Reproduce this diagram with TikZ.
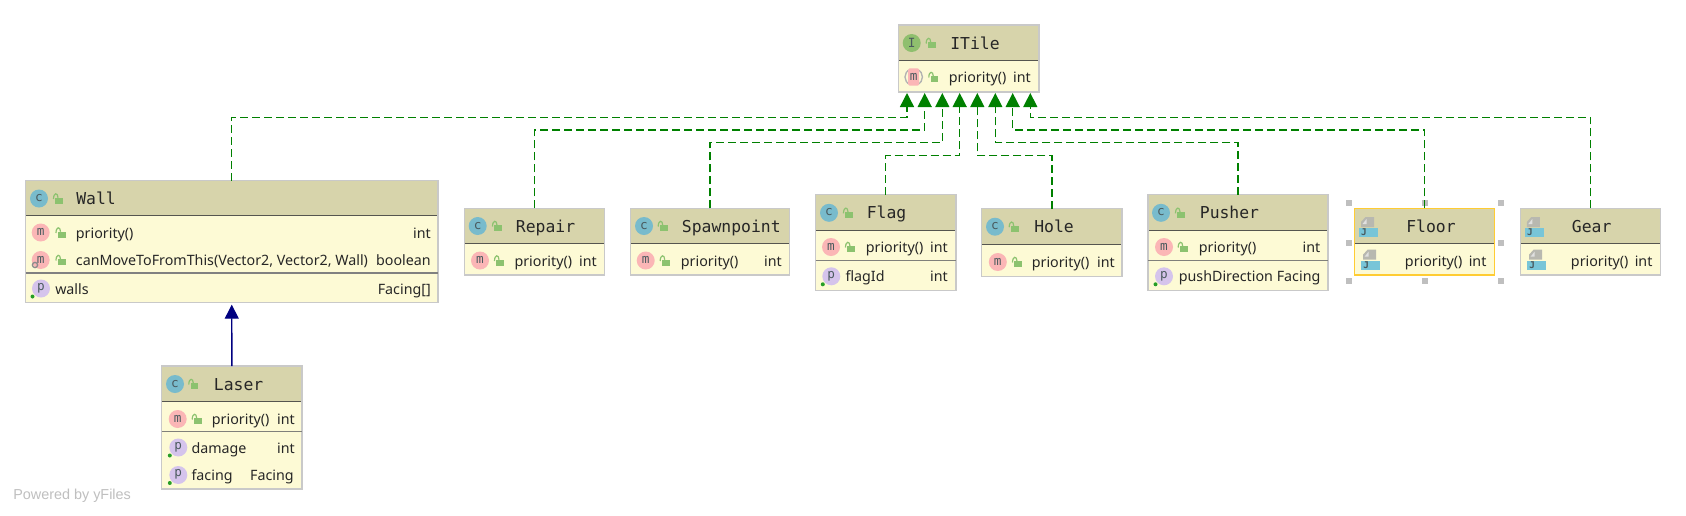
\documentclass[tikz,border=0pt]{standalone}
\usepackage{fontspec}
\setmainfont{Noto Sans}
\newfontfamily\titlefont{DejaVu Sans Mono}
\newfontfamily\yfont{Liberation Sans}
\usetikzlibrary{arrows.meta}
\definecolor{headfill}{HTML}{D7D4AB}
\definecolor{bodyfill}{HTML}{FDFAD5}
\definecolor{boxline}{HTML}{C9C9C9}
\definecolor{divline}{HTML}{55554F}
\definecolor{selline}{HTML}{FFCC33}
\definecolor{lockgreen}{HTML}{8CC26F}
\definecolor{cteal}{HTML}{78BBCC}
\definecolor{mpink}{HTML}{FBB6B6}
\definecolor{ppurple}{HTML}{D5C4EC}
\definecolor{igreen}{HTML}{8FBF6E}
\definecolor{letter}{HTML}{4A5A5E}
\definecolor{depgreen}{HTML}{008000}
\definecolor{extnavy}{HTML}{000080}
\definecolor{jteal}{HTML}{78C5D8}
\definecolor{jgray}{HTML}{B8B8B0}
\tikzset{
  x=0.75pt,y=-0.75pt,
  classbody/.style={fill=bodyfill,inner sep=0pt,outer sep=0pt},
  border/.style={draw=boxline,line width=1.1pt},
  selborder/.style={draw=selline,line width=1.1pt},
  divider/.style={draw=divline,line width=0.65pt},
  divlight/.style={draw=divline!75,line width=0.6pt},
  divgray/.style={draw=black!50,line width=1pt},
  titletext/.style={inner sep=0pt,anchor=base west,font=\titlefont\fontsize{12.3pt}{14pt}\selectfont,text=black!85},
  rowtext/.style={inner sep=0pt,anchor=base west,font=\fontsize{10.7pt}{13pt}\selectfont,text=black!85},
  typetext/.style={inner sep=0pt,anchor=base east,font=\fontsize{10.7pt}{13pt}\selectfont,text=black!85},
  dep/.style={draw=depgreen,line width=1.05pt,dash pattern=on 6pt off 3pt,-{Triangle[width=10.5pt,length=10.5pt]}},
  ext/.style={draw=extnavy,line width=1.05pt,-{Triangle[width=10.5pt,length=10.5pt]},shorten >=1.5pt},
  handle/.style={fill=black!25,inner sep=0pt,minimum size=4.5pt},
  pics/badge/.style 2 args={code={
    \fill[#2] (0,0) circle [radius=9];
    \node[inner sep=0pt,text=letter,font=\titlefont\fontsize{9.5pt}{10pt}\selectfont] at (0,-0.3) {#1};
  }},
  pics/lock/.style={code={
    \fill[lockgreen] (-2.7,-0.8) rectangle (5,5.2);
    \draw[lockgreen,line width=0.9pt] (-4.5,0.5) .. controls (-4.5,-6.2) and (0,-6.2) .. (0,-0.8);
  }},
  pics/jicon/.style={code={
    \fill[jgray] (-3,-10) -- (5.5,-10) -- (5.5,0) -- (-7.5,0) -- (-7.5,-5) -- cycle;
    \fill[black!12] (-2,-8) -- (-2,-3) -- (-6,-3) -- cycle;
    \fill[jteal] (-9.5,1) rectangle (9.5,10);
    \node[inner sep=0pt,text=letter,font=\titlefont\bfseries\fontsize{7pt}{8pt}\selectfont] at (-4.5,5.5) {J};
  }},
  pics/absm/.style={code={
    \draw[black!30,line width=1pt] (-3.5,-7.5) .. controls (-10.5,-5) and (-10.5,5) .. (-3.5,7.5);
    \draw[black!30,line width=1pt] (3.5,-7.5) .. controls (10.5,-5) and (10.5,5) .. (3.5,7.5);
    \fill[mpink,rounded corners=1.5pt] (-5.5,-8.7) rectangle (5.5,8.7);
    \node[inner sep=0pt,text=letter,font=\titlefont\fontsize{9.5pt}{10pt}\selectfont] at (0,-0.3) {m};
  }},
  pics/dot/.style={code={\fill[green!55!black!85] (0,0) circle [radius=2];}},
  pics/gearmark/.style={code={\draw[black!45,line width=1pt] (0,0) circle [radius=2.6];}},
}
% #1 id, #2-#5 box x0 y0 x1 y1, #6 divider y, #7 border style
\newcommand{\classbox}[7]{%
  \node[classbody,minimum width={(#4-#2)*0.75pt},minimum height={(#5-#3)*0.75pt}] (#1) at ({(#2+#4)/2},{(#3+#5)/2}) {};
  \fill[headfill] (#1.north west) rectangle (#1.east |- 0,#6);
  \draw[divider] (#1.west |- 0,#6) -- (#1.east |- 0,#6);
  \draw[#7] (#1.north west) rectangle (#1.south east);
}
% #1 id, #2 badge x, #3 lock x, #4 title x, #5 y, #6 letter, #7 colour, #8 title
\newcommand{\headline}[8]{%
  \pic at (#2,#5) {badge={#6}{#7}};
  \pic at (#3,#5) {lock};
  \node[titletext] (#1-title) at (#4,#5+6) {#8};
}
% #1 id, #2 m x, #3 lock x, #4 text x, #5 right x, #6 y, #7 text, #8 type
\newcommand{\mrow}[8]{%
  \pic at (#2,#6) {badge={m}{mpink}};
  \pic at (#3,#6) {lock};
  \node[rowtext] (#1-n) at (#4,#6+5.5) {#7};
  \node[typetext] (#1-t) at (#5,#6+5.5) {#8};
}
% #1 id, #2 p x, #3 text x, #4 right x, #5 y, #6 text, #7 type
\newcommand{\prow}[7]{%
  \pic at (#2,#5) {badge={p}{ppurple}};
  \pic at (#2-8.5,#5+8) {dot};
  \node[rowtext] (#1-n) at (#3,#5+5.5) {#6};
  \node[typetext] (#1-t) at (#4,#5+5.5) {#7};
}
\begin{document}
\begin{tikzpicture}
\useasboundingbox (0,0) rectangle (1686,515);
\fill[white] (0,0) rectangle (1686,515);

% ITile
\classbox{itile}{898.5}{25}{1039}{92}{60}{border}
\headline{itile}{911.7}{930.7}{950}{43}{I}{igreen}{ITile}
\pic at (913.7,77) {absm};
\pic at (933.3,77) {lock};
\node[rowtext] (itile-n) at (948.7,82.5) {priority()};
\node[typetext] (itile-t) at (1031,82.5) {int};

% Wall
\classbox{wall}{25.5}{180.7}{438}{302.7}{215}{border}
\draw[divgray] (wall.west |- 0,273) -- (wall.east |- 0,273);
\headline{wall}{39}{58}{76}{198.5}{c}{cteal}{Wall}
\mrow{wallp}{40.7}{60.5}{75.7}{431}{232.5}{priority()}{int}
\mrow{wallc}{40.7}{60.5}{75.7}{431}{260}{canMoveToFromThis(Vector2, Vector2, Wall)}{boolean}
\pic at (35,265) {gearmark};
\prow{wallw}{41}{55}{431}{288.5}{walls}{Facing[]}

% Laser
\classbox{laser}{161.7}{366}{302}{489}{401}{border}
\draw[divlight] (laser.west |- 0,431) -- (laser.east |- 0,431);
\headline{laser}{175}{193.3}{213.7}{384}{c}{cteal}{Laser}
\mrow{laserp}{177.7}{196.7}{211.7}{295}{419}{priority()}{int}
\prow{laserd}{178.3}{191.3}{295}{447.5}{damage}{int}
\prow{laserf}{178.3}{191.3}{294}{475}{facing}{Facing}

% Repair
\classbox{repair}{464.3}{208.3}{604.7}{275}{243.3}{border}
\headline{repair}{477.7}{497}{515.7}{226}{c}{cteal}{Repair}
\mrow{repairp}{480}{499}{514.3}{597}{260.5}{priority()}{int}

% Spawnpoint
\classbox{spawn}{630.7}{208.3}{789.3}{275}{243.3}{border}
\headline{spawn}{644}{662.7}{681.7}{226}{c}{cteal}{Spawnpoint}
\mrow{spawnp}{645.7}{664.7}{680.7}{782}{260.5}{priority()}{int}

% Flag
\classbox{flag}{815.5}{194.5}{955.9}{290.5}{230}{border}
\draw[divlight] (flag.west |- 0,260.5) -- (flag.east |- 0,260.5);
\headline{flag}{829}{848}{866.6}{212.8}{c}{cteal}{Flag}
\mrow{flagp}{831}{850}{865.6}{948}{247}{priority()}{int}
\prow{flagi}{831.3}{845.3}{948}{276.3}{flagId}{int}

% Hole
\classbox{hole}{981.5}{208.7}{1122.2}{276.5}{244.2}{border}
\headline{hole}{995}{1013.7}{1034}{226.7}{c}{cteal}{Hole}
\mrow{holep}{997.8}{1017}{1031.6}{1115}{262}{priority()}{int}

% Pusher
\classbox{pusher}{1148.2}{194.5}{1328}{290.5}{230}{border}
\draw[divlight] (pusher.west |- 0,260.5) -- (pusher.east |- 0,260.5);
\headline{pusher}{1161}{1180}{1199.6}{212.8}{c}{cteal}{Pusher}
\mrow{pusherp}{1164}{1182.7}{1198.6}{1320.6}{247}{priority()}{int}
\prow{pusherd}{1164}{1178.6}{1320.6}{276.3}{pushDirection}{Facing}

% Floor
\classbox{floor}{1354.3}{208.3}{1494.7}{275}{243.3}{selborder}
\pic at (1368.5,227) {jicon};
\node[titletext] (floor-title) at (1406,232) {Floor};
\pic at (1370.7,259.5) {jicon};
\node[rowtext] (floor-n) at (1404.7,266) {priority()};
\node[typetext] (floor-t) at (1486.7,266) {int};
\foreach \hx/\hy [count=\hi] in {1349.3/203.3,1425/203.3,1500.6/203.3,1349.3/242.5,1500.6/242.5,1349.3/280.7,1425/280.7,1500.6/280.7}
  \node[handle] (handle\hi) at (\hx,\hy) {};

% Gear
\classbox{gear}{1520.7}{208.3}{1660.7}{275}{243.3}{border}
\pic at (1534.3,227) {jicon};
\node[titletext] (gear-title) at (1571.7,232) {Gear};
\pic at (1536.7,259.5) {jicon};
\node[rowtext] (gear-n) at (1570.7,266) {priority()};
\node[typetext] (gear-t) at (1652.7,266) {int};

% arrow tips under ITile and connector bend points
\coordinate (t1) at (907,93);    \coordinate (b1) at (907,117.3);
\coordinate (t2) at (924.7,93);  \coordinate (b2) at (924.7,130);
\coordinate (t3) at (942.3,93);  \coordinate (b3) at (942.3,142.3);
\coordinate (t4) at (959.7,93);  \coordinate (b4) at (959.7,155.3);
\coordinate (t5) at (977.3,93);  \coordinate (b5) at (977.3,155.3);
\coordinate (t6) at (995.3,93);  \coordinate (b6) at (995.3,142.3);
\coordinate (t7) at (1012.7,93); \coordinate (b7) at (1012.7,130);
\coordinate (t8) at (1030.3,93); \coordinate (b8) at (1030.3,117.3);

\draw[dep] (wall.north) |- (b1) -- (t1);
\draw[dep] (repair.north) |- (b2) -- (t2);
\draw[dep] (spawn.north) |- (b3) -- (t3);
\draw[dep] (flag.north) |- (b4) -- (t4);
\draw[dep] (hole.north) |- (b5) -- (t5);
\draw[dep] (pusher.north) |- (b6) -- (t6);
\draw[dep] (floor.north) |- (b7) -- (t7);
\draw[dep] (gear.north) |- (b8) -- (t8);
\draw[ext] (laser.north) -- (wall.south);

\node[inner sep=0pt,anchor=base west,text=black!25,font=\yfont\fontsize{10.8pt}{12pt}\selectfont] (powered) at (13,499.5) {Powered by yFiles};
\end{tikzpicture}
\end{document}
